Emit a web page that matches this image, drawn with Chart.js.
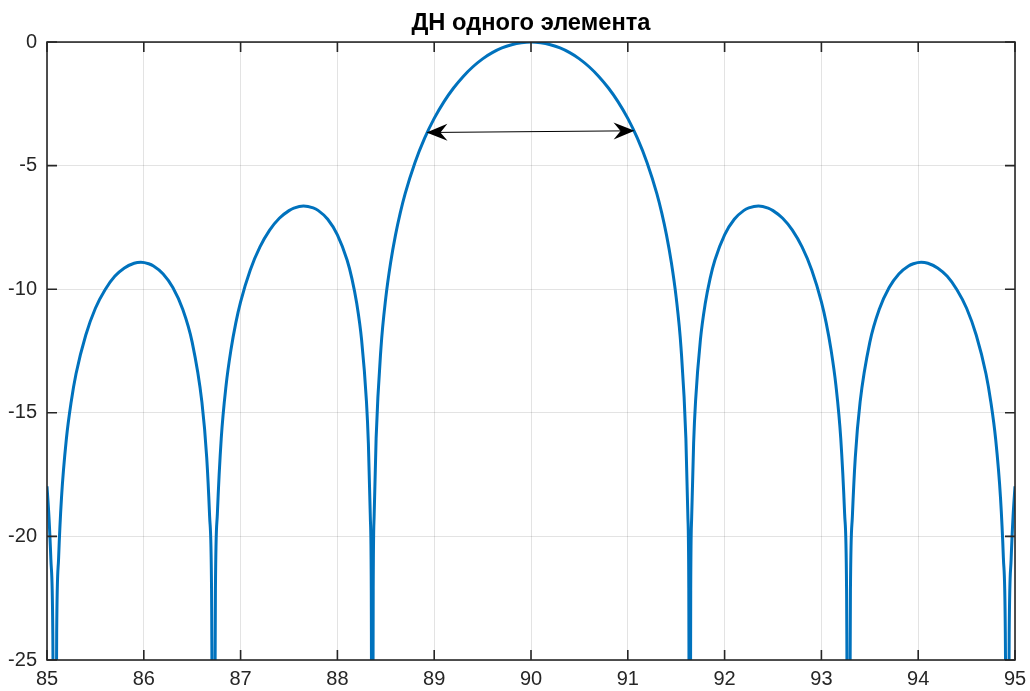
<!DOCTYPE html>
<html>
<head>
<meta charset="utf-8">
<title>ДН одного элемента</title>
<script src="https://cdn.jsdelivr.net/npm/chart.js@4.4.1/dist/chart.umd.min.js"></script>
<style>
  html, body { margin: 0; padding: 0; background: #fff; }
  #wrap { width: 1030px; height: 691px; }
</style>
</head>
<body>
<div id="wrap"><canvas id="myChart" width="1030" height="691"></canvas></div>
<script>
// angle, degrees
const angles = [
  85.00, 85.02, 85.04, 85.06, 85.08, 85.10, 85.12, 85.15, 85.20, 85.25,
  85.30, 85.40, 85.50, 85.60, 85.70, 85.80, 85.90, 85.97, 86.05, 86.10,
  86.20, 86.30, 86.40, 86.50, 86.60, 86.65, 86.68, 86.70, 86.72, 86.74,
  86.76, 86.80, 86.85, 86.90, 86.95, 87.00, 87.10, 87.20, 87.30, 87.40,
  87.50, 87.55, 87.65, 87.75, 87.80, 87.90, 88.00, 88.10, 88.15, 88.20,
  88.25, 88.30, 88.32, 88.34, 88.35, 88.36, 88.37, 88.38, 88.40, 88.45,
  88.50, 88.55, 88.60, 88.65, 88.70, 88.80, 88.90, 89.00, 89.10, 89.20,
  89.30, 89.40, 89.50, 89.60, 89.70, 89.80, 89.90, 90.00, 90.10, 90.20,
  90.30, 90.40, 90.50, 90.60, 90.70, 90.80, 90.90, 91.00, 91.10, 91.20,
  91.30, 91.35, 91.40, 91.45, 91.50, 91.55, 91.60, 91.62, 91.63, 91.64,
  91.65, 91.66, 91.68, 91.70, 91.75, 91.80, 91.85, 91.90, 92.00, 92.10,
  92.20, 92.25, 92.35, 92.45, 92.50, 92.60, 92.70, 92.80, 92.90, 93.00,
  93.05, 93.10, 93.15, 93.20, 93.24, 93.26, 93.28, 93.30, 93.32, 93.35,
  93.40, 93.50, 93.60, 93.70, 93.80, 93.90, 93.95, 94.03, 94.10, 94.20,
  94.30, 94.40, 94.50, 94.60, 94.70, 94.75, 94.80, 94.85, 94.88, 94.90,
  94.92, 94.94, 94.96, 94.98, 95.00
];
// pattern level, dB (nulls drop below the axis)
const levels = [
  -17.97, -19.20, -20.93, -23.93, -40, -23.89, -20.87, -18.42, -16.06, -14.55,
  -13.42, -11.86, -10.77, -10.02, -9.48, -9.14, -8.95, -8.91, -8.97, -9.06,
  -9.38, -9.93, -10.79, -12.15, -14.56, -16.81, -19.19, -22.18, -40, -22.12,
  -19.09, -16.04, -13.89, -12.46, -11.37, -10.51, -9.22, -8.29, -7.61, -7.13,
  -6.82, -6.72, -6.63, -6.71, -6.81, -7.17, -7.80, -8.82, -9.57, -10.58,
  -12.05, -14.53, -16.23, -19.19, -22.17, -40, -22.10, -19.09, -16.03, -12.38,
  -10.34, -8.92, -7.81, -6.90, -6.13, -4.89, -3.90, -3.09, -2.42, -1.86,
  -1.39, -1.00, -0.68, -0.43, -0.24, -0.11, -0.03, 0, -0.03, -0.11,
  -0.24, -0.43, -0.68, -1.00, -1.39, -1.86, -2.42, -3.09, -3.90, -4.89,
  -6.13, -6.90, -7.81, -8.92, -10.34, -12.38, -16.03, -19.09, -22.10, -40,
  -22.17, -19.19, -16.23, -14.53, -12.05, -10.58, -9.57, -8.82, -7.80, -7.17,
  -6.81, -6.71, -6.63, -6.72, -6.82, -7.13, -7.61, -8.29, -9.22, -10.51,
  -11.37, -12.46, -13.89, -16.04, -19.09, -22.12, -40, -22.18, -19.19, -16.81,
  -14.56, -12.15, -10.79, -9.93, -9.38, -9.06, -8.97, -8.91, -8.95, -9.14,
  -9.48, -10.02, -10.77, -11.86, -13.42, -14.55, -16.06, -18.42, -20.87, -23.89,
  -40, -23.93, -20.93, -19.20, -17.97
];

const xTicks = [85, 86, 87, 88, 89, 90, 91, 92, 93, 94, 95];
const yTicks = [-25, -20, -15, -10, -5, 0];

// double arrow marking the beam width (data coords)
const arrowFrom = [88.92, -3.66];
const arrowTo = [91.07, -3.59];

const axisColor = '#262626';
const fontFamily = "'Liberation Sans', Arial, Helvetica, sans-serif";

function drawHead(ctx, tx, ty, ux, uy) {
  const len = 21, half = 8.5, notch = 14;
  const nx = -uy, ny = ux;
  ctx.beginPath();
  ctx.moveTo(tx, ty);
  ctx.lineTo(tx - ux * len + nx * half, ty - uy * len + ny * half);
  ctx.lineTo(tx - ux * notch, ty - uy * notch);
  ctx.lineTo(tx - ux * len - nx * half, ty - uy * len - ny * half);
  ctx.closePath();
  ctx.fill();
}

const matlabAxes = {
  id: 'matlabAxes',
  afterDatasetsDraw(chart) {
    const { ctx, chartArea: a, scales } = chart;
    const xs = scales.x, ys = scales.y;
    ctx.save();

    // arrow
    const x1 = xs.getPixelForValue(arrowFrom[0]), y1 = ys.getPixelForValue(arrowFrom[1]);
    const x2 = xs.getPixelForValue(arrowTo[0]), y2 = ys.getPixelForValue(arrowTo[1]);
    const d = Math.hypot(x2 - x1, y2 - y1);
    const ux = (x2 - x1) / d, uy = (y2 - y1) / d;
    ctx.strokeStyle = '#000';
    ctx.fillStyle = '#000';
    ctx.lineWidth = 1;
    ctx.beginPath();
    ctx.moveTo(x1 + ux * 10, y1 + uy * 10);
    ctx.lineTo(x2 - ux * 10, y2 - uy * 10);
    ctx.stroke();
    drawHead(ctx, x2, y2, ux, uy);
    drawHead(ctx, x1, y1, -ux, -uy);

    // box and inward ticks
    ctx.strokeStyle = axisColor;
    ctx.lineWidth = 1.6;
    ctx.strokeRect(a.left, a.top, a.right - a.left, a.bottom - a.top);
    ctx.beginPath();
    xTicks.forEach(v => {
      const px = xs.getPixelForValue(v);
      ctx.moveTo(px, a.bottom); ctx.lineTo(px, a.bottom - 10);
      ctx.moveTo(px, a.top); ctx.lineTo(px, a.top + 10);
    });
    yTicks.forEach(v => {
      const py = ys.getPixelForValue(v);
      ctx.moveTo(a.left, py); ctx.lineTo(a.left + 10, py);
      ctx.moveTo(a.right, py); ctx.lineTo(a.right - 10, py);
    });
    ctx.stroke();
    ctx.restore();
  }
};

const ctx = document.getElementById('myChart').getContext('2d');
const chart = new Chart(ctx, {
  type: 'line',
  data: {
    datasets: [{
      data: angles.map((a, i) => ({ x: a, y: levels[i] })),
      borderColor: '#0072BD',
      borderWidth: 3,
      pointRadius: 0,
      fill: false,
      cubicInterpolationMode: 'monotone',
      clip: 0
    }]
  },
  options: {
    responsive: false,
    animation: false,
    layout: { padding: { left: 0, right: 15, top: 0, bottom: 0 } },
    plugins: {
      legend: { display: false },
      tooltip: { enabled: false },
      title: {
        display: true,
        text: 'ДН одного элемента',
        fullSize: false,
        color: '#000',
        font: { family: fontFamily, size: 23.7, weight: 'bold', lineHeight: 1.2 },
        padding: { top: 9, bottom: 4.6 }
      }
    },
    scales: {
      x: {
        type: 'linear',
        min: 85,
        max: 95,
        afterBuildTicks: s => { s.ticks = xTicks.map(v => ({ value: v })); },
        afterFit: s => { s.height = 31; s.paddingLeft = 0; s.paddingRight = 0; },
        grid: { color: 'rgba(38,38,38,0.13)', drawTicks: false },
        border: { display: false },
        ticks: {
          color: axisColor,
          padding: 7,
          maxRotation: 0,
          font: { family: fontFamily, size: 20 }
        }
      },
      y: {
        type: 'linear',
        min: -25,
        max: 0,
        afterBuildTicks: s => { s.ticks = yTicks.map(v => ({ value: v })); },
        afterFit: s => { s.width = 47; s.paddingTop = 0; s.paddingBottom = 0; },
        grid: { color: 'rgba(38,38,38,0.13)', drawTicks: false },
        border: { display: false },
        ticks: {
          color: axisColor,
          padding: 10,
          font: { family: fontFamily, size: 20 }
        }
      }
    }
  },
  plugins: [matlabAxes]
});
</script>
</body>
</html>
